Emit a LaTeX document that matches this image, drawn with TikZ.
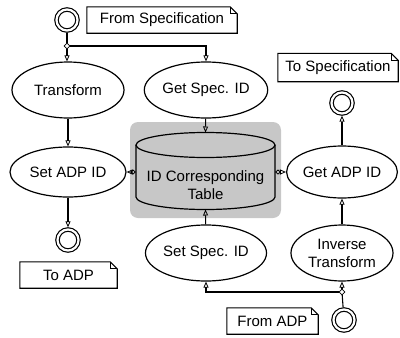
\documentclass[tikz,border=0pt]{standalone}
\usepackage{fontspec}
\setmainfont{Liberation Sans}
\usetikzlibrary{shapes.geometric,arrows.meta}

\tikzset{
  x=1pt, y=1pt,
  txt/.style={font=\fontsize{15}{18}\selectfont},
  proc/.style={ellipse, draw, line width=1.2pt, inner sep=0pt, align=center, txt},
  term/.style={circle, draw, line width=1.2pt, double=white, double distance=2.2pt,
               minimum size=21pt, inner sep=0pt, outer sep=2.2pt},
  notebox/.style={rectangle, inner sep=0pt, txt},
  fork/.style={diamond, draw, line width=0.8pt, fill=white, minimum size=6pt, inner sep=0pt},
  tip/.style={-{Triangle[open,length=6pt,width=5pt,line width=0.8pt]}},
  flow/.style={line width=1.1pt, tip},
  link/.style={line width=1.1pt},
  dataflow/.style={line width=1.1pt,
    {Diamond[open,length=6pt,width=5pt,line width=0.8pt]}-{Triangle[open,length=6pt,width=5pt,line width=0.8pt]}},
}

% outline of a note with a folded top-right corner
\newcommand\drawnote[1]{%
  \draw[line width=1.1pt] (#1.north west) -- ([xshift=-7pt]#1.north east)
    -- ([yshift=-7pt]#1.north east) -- (#1.south east) -- (#1.south west) -- cycle;
  \draw[line width=0.8pt] ([xshift=-7pt]#1.north east) |- ([yshift=-7pt]#1.north east);}

\begin{document}
\begin{tikzpicture}
\useasboundingbox (0,0) rectangle (400,-338);

% shaded area behind the table
\fill[black!22, rounded corners=8pt] (130,-122) rectangle (281,-218);

% cylinder (data store)
\draw[line width=1.2pt] (136,-145) -- (136,-197)
  arc[start angle=180, end angle=360, x radius=69.5, y radius=12.5]
  -- (275,-145);
\draw[line width=1.2pt] (205.5,-145) ellipse[x radius=69.5, y radius=12.5];
\node[txt, align=center] (table) at (205.5,-185) {ID Corresponding\\Table};
\coordinate (tabletop) at (205.5,-132.5);
\coordinate (tablebottom) at (205.5,-209.5);
\coordinate (tableleft) at (136,-172);
\coordinate (tableright) at (275,-172);

% processes
\node[proc, minimum width=112pt, minimum height=56pt] (transform) at (68,-90) {Transform};
\node[proc, minimum width=104pt, minimum height=56pt] (getspec) at (206,-90) {Get Spec. ID};
\node[proc, minimum width=116pt, minimum height=50pt] (setadp) at (68,-172) {Set ADP ID};
\node[proc, minimum width=108pt, minimum height=52pt] (getadp) at (342,-172) {Get ADP ID};
\node[proc, minimum width=108pt, minimum height=56pt] (setspec) at (206,-253) {Set Spec. ID};
\node[proc, minimum width=102pt, minimum height=56pt] (inverse) at (342,-253) {Inverse\\Transform};

% start and end points
\node[term] (start1) at (67,-20) {};
\node[term] (end1) at (342,-103) {};
\node[term] (end2) at (68,-240) {};
\node[term] (start2) at (344,-320) {};

% notes
\node[notebox, minimum width=150pt, minimum height=26pt] (fromspec) at (162,-20) {From Specification};
\drawnote{fromspec}
\node[notebox, minimum width=120pt, minimum height=28pt] (tospec) at (338,-67.5) {To Specification};
\drawnote{tospec}
\node[notebox, minimum width=97pt, minimum height=26pt] (toadp) at (68.5,-275) {To ADP};
\drawnote{toadp}
\node[notebox, minimum width=91pt, minimum height=26pt] (fromadp) at (272.5,-321) {From ADP};
\drawnote{fromadp}

% forks
\node[fork] (fork1) at (67,-46) {};
\node[fork] (fork2) at (342,-292) {};

% connectors
\draw[link] (start1) -- (fork1);
\draw[flow] (fork1) -- (fork1 |- transform.north);
\draw[flow] (fork1.east) -| (getspec.north);
\draw[flow] (transform) -- (setadp);
\draw[flow] (getspec) -- (tabletop);
\draw[dataflow] (tableleft) -- (setadp.east);
\draw[dataflow] (tableright) -- (getadp.west);
\draw[flow] (setadp) -- (end2);
\draw[flow] (getadp) -- (end1);
\draw[flow] (inverse) -- (getadp);
\draw[flow] (setspec) -- (tablebottom);
\draw[link] (start2) -- (fork2);
\draw[flow] (fork2) -- (inverse);
\draw[flow] (fork2.west) -| (setspec.south);
\end{tikzpicture}
\end{document}
